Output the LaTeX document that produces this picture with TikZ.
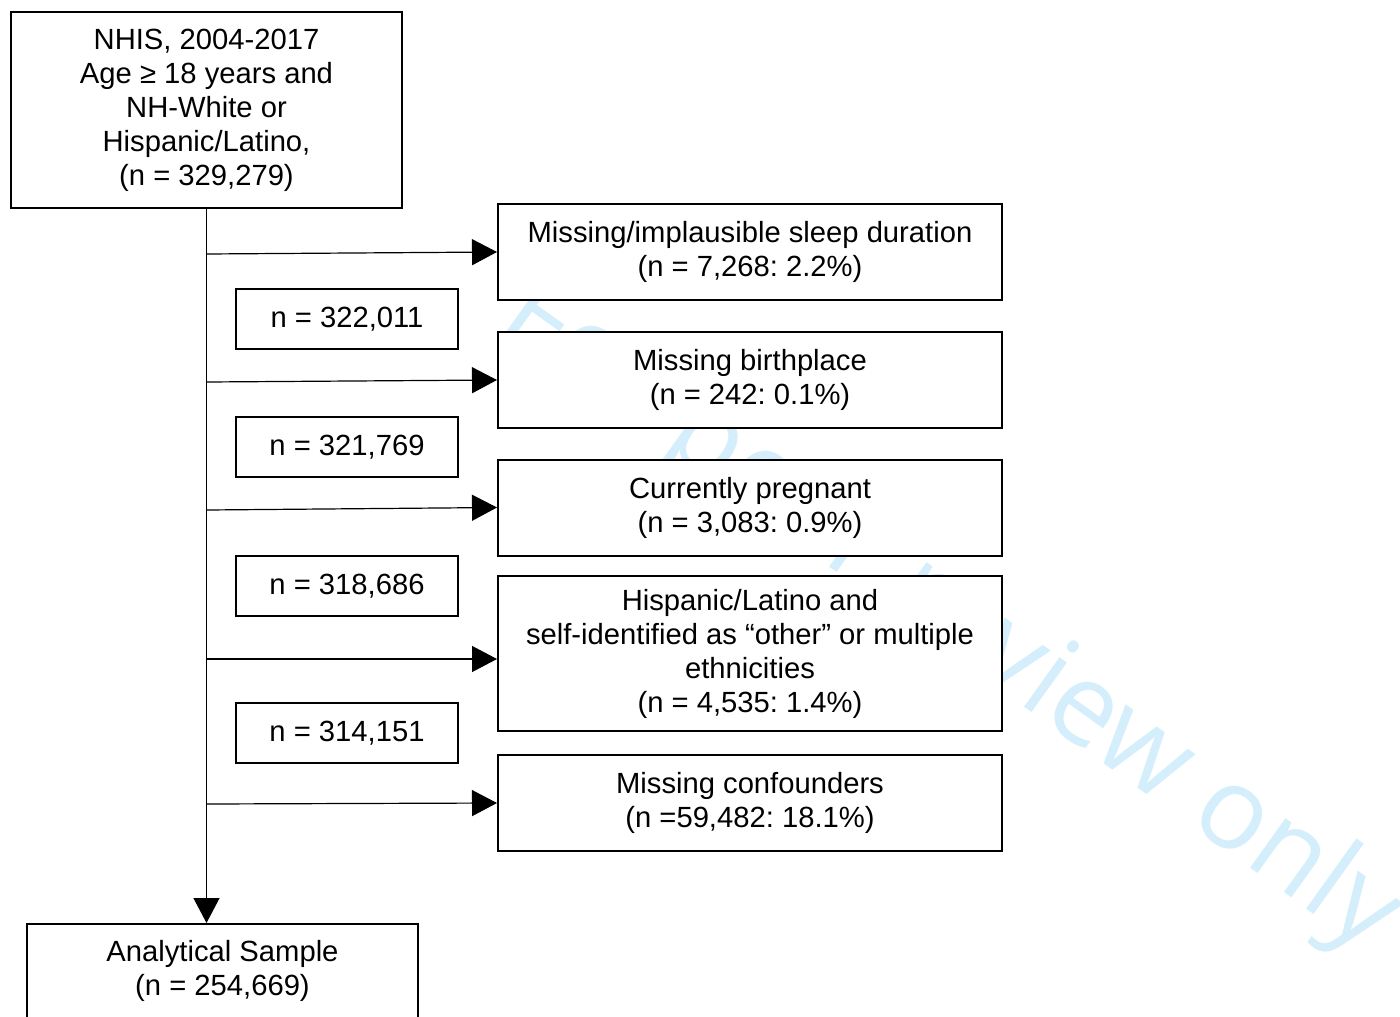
\documentclass[tikz,border=0pt]{standalone}
\usepackage{fontspec}
\setmainfont{Liberation Sans}
\newfontfamily\wmfont{Open Sans}
\usetikzlibrary{arrows.meta}
\definecolor{wmcyan}{RGB}{212,239,251}
\frenchspacing

\begin{document}
\begin{tikzpicture}[
        x=0.5pt, y=-0.5pt,
        >={Triangle[length=12.5pt, width=13pt]},
        box/.style={draw, fill=white, line width=1pt, align=center, inner sep=0pt,
                font=\fontsize{14.6pt}{17pt}\selectfont},
        exclbox/.style={box, minimum width=252pt, minimum height=48pt},
        countbox/.style={box, minimum width=111pt, minimum height=30pt},
        flow/.style={->, line width=0.6pt},
        watermark/.style={text=wmcyan, inner sep=0pt,
                font=\wmfont\fontsize{57pt}{57pt}\selectfont}
    ]
    \clip (0,0) rectangle (1400,1016);
    \useasboundingbox (0,0) rectangle (1400,1016);

    \node[watermark, anchor=base west, rotate=-35.6] (wm) at (495,328) {For peer review only};

    \node[box, minimum width=195.5pt, minimum height=98pt] (nhis) at (206.5,110)
        {NHIS, 2004-2017\\Age ≥ 18 years and\\NH-White or\\Hispanic/Latino,\\(n = 329,279)};
    \node[exclbox] (sleep) at (750,252) {Missing/implausible sleep duration\\(n = 7,268: 2.2\%)};
    \node[exclbox] (birth) at (750,380) {Missing birthplace\\(n = 242: 0.1\%)};
    \node[exclbox] (preg) at (750,507.5) {Currently pregnant\\(n = 3,083: 0.9\%)};
    \node[exclbox, minimum height=77.5pt] (ethn) at (750,653.5)
        {Hispanic/Latino and\\self-identified as “other” or multiple\\ethnicities\\(n = 4,535: 1.4\%)};
    \node[exclbox] (conf) at (750,803) {Missing confounders\\(n =59,482: 18.1\%)};

    \node[countbox] (n1) at (347,319) {n = 322,011};
    \node[countbox] (n2) at (347,447) {n = 321,769};
    \node[countbox] (n3) at (347,586) {n = 318,686};
    \node[countbox] (n4) at (347,733) {n = 314,151};

    \node[box, minimum width=195.5pt, anchor=north, inner ysep=8pt] (final) at (222.5,923)
        {Analytical Sample\\(n = 254,669)\\\strut};

    \coordinate (s1) at (207,254);
    \coordinate (s2) at (207,382);
    \coordinate (s3) at (207,510);
    \coordinate (s4) at (207,659);
    \coordinate (s5) at (207,804);

    \draw[flow] (nhis.south) -- (nhis.south |- final.north);
    \draw[flow] (s1) -- (sleep.west);
    \draw[flow] (s2) -- (birth.west);
    \draw[flow] (s3) -- (preg.west);
    \draw[flow] (s4) -- (s4 -| ethn.west);
    \draw[flow] (s5) -- (conf.west);
\end{tikzpicture}
\end{document}
